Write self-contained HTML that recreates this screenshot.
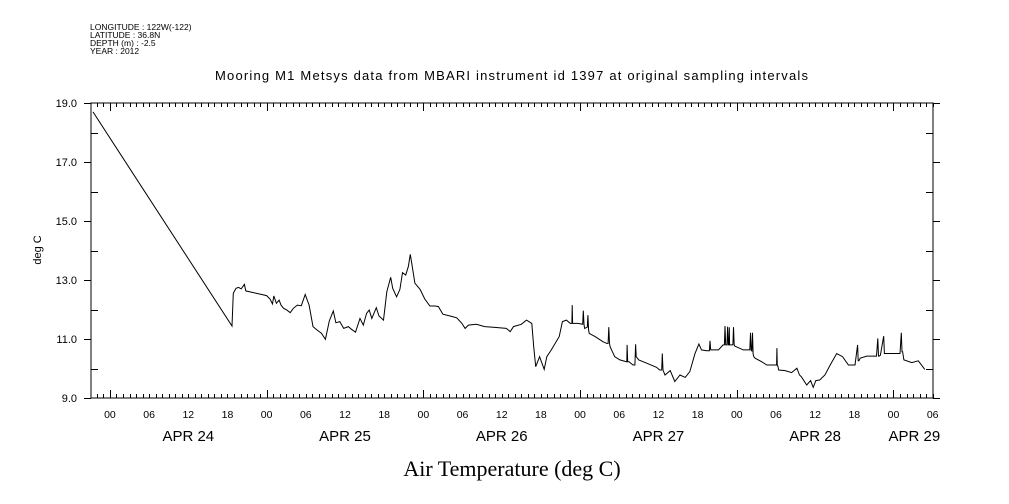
<!DOCTYPE html>
<html><head><meta charset="utf-8"><style>
body{margin:0;background:#fff;}
svg{display:block;font-family:"Liberation Sans",sans-serif;}
</style></head><body>
<svg id="chart" width="1009" height="504" viewBox="0 0 1009 504" xmlns="http://www.w3.org/2000/svg">
<rect width="1009" height="504" fill="#fff"/>
<g font-size="8.5" fill="#000">
<text x="90" y="30">LONGITUDE : 122W(-122)</text>
<text x="90" y="38">LATITUDE : 36.8N</text>
<text x="90" y="46">DEPTH (m) : -2.5</text>
<text x="90" y="54">YEAR : 2012</text>
</g>
<text x="215" y="80" font-size="13" textLength="593" lengthAdjust="spacing">Mooring M1 Metsys data from MBARI instrument id 1397 at original sampling intervals</text>
<text transform="translate(41,250) rotate(-90)" font-size="11" text-anchor="middle">deg C</text>
<text x="512" y="476" font-family="Liberation Serif,serif" font-size="22" text-anchor="middle">Air Temperature (deg C)</text>
<g id="axes"></g>
<path id="series" fill="none" stroke="#000" stroke-width="1"/>
<rect x="91" y="103" width="842" height="295" fill="none" stroke="#000" stroke-width="1"/>
</svg>
<script>
// data: hours since APR 24 00:00 and temperature (deg C)
const hours=[-2.6,18.7,18.9,19.3,19.7,20.1,20.6,20.8,24.0,24.5,24.9,25.1,25.5,25.9,26.2,26.6,27.1,27.6,28.1,28.7,29.3,29.9,30.5,31.1,31.7,32.4,33.0,33.6,34.2,34.6,35.2,35.8,36.5,37.0,37.6,38.3,38.8,39.3,39.7,40.1,40.8,41.2,41.9,42.4,43.0,43.3,43.9,44.4,44.8,45.3,45.7,46.0,46.7,47.5,48.2,49.0,49.8,50.3,51.0,52.1,53.1,53.9,54.4,54.9,56.1,57.4,58.7,60.7,61.3,61.8,63.0,63.8,64.6,64.9,65.2,65.8,66.5,66.9,67.6,68.8,69.3,69.9,70.5,70.75,70.8,70.85,71.1,71.7,72.4,72.5,72.6,72.7,73.1,73.2,73.3,73.4,74.3,75.5,76.1,76.3,76.4,76.5,76.6,77.3,78.1,79.1,79.15,79.2,79.3,79.5,80.1,80.4,80.5,80.6,81.0,82.2,83.7,84.2,84.5,84.6,84.7,85.0,85.8,86.5,87.3,88.1,88.8,89.6,90.2,90.6,91.4,91.8,91.9,92.0,92.1,93.2,93.9,94.1,94.2,94.3,94.5,94.6,94.7,94.8,94.85,94.9,95.0,95.4,95.5,95.6,95.7,95.9,97.0,98.0,98.1,98.2,98.3,98.4,98.5,98.6,98.8,99.8,100.6,102.1,102.15,102.2,102.3,102.4,103.4,104.4,105.2,105.6,105.9,106.7,107.3,107.7,108.1,108.7,109.5,110.3,111.3,112.2,113.1,113.5,114.1,114.5,114.6,114.7,114.9,115.9,117.4,117.6,117.7,117.8,118.0,118.5,118.6,118.7,118.8,121.0,121.2,121.3,121.4,121.6,122.8,123.8,124.8,126.0];
const temps=[18.7,11.44,12.55,12.72,12.75,12.7,12.85,12.63,12.47,12.36,12.19,12.46,12.21,12.32,12.15,12.04,11.98,11.89,12.04,12.15,12.13,12.51,12.15,11.42,11.31,11.19,10.99,11.61,11.95,11.55,11.59,11.36,11.42,11.33,11.23,11.70,11.47,11.87,11.98,11.70,12.06,11.78,11.64,12.6,13.09,12.72,12.43,12.68,13.25,13.17,13.45,13.87,12.89,12.68,12.36,12.12,12.12,12.1,11.84,11.78,11.72,11.53,11.36,11.47,11.5,11.42,11.40,11.36,11.25,11.42,11.5,11.64,11.53,10.74,10.06,10.40,9.97,10.40,10.63,11.08,11.59,11.64,11.53,11.53,12.15,11.53,11.53,11.53,11.5,11.96,11.5,11.36,11.4,11.81,11.3,11.19,11.08,10.91,10.85,10.85,11.40,10.85,10.74,10.40,10.29,10.23,10.23,10.80,10.23,10.23,10.12,10.12,10.82,10.4,10.29,10.18,10.04,9.95,9.95,10.51,9.95,9.78,9.93,9.56,9.78,9.70,9.89,10.51,10.83,10.63,10.60,10.6,10.94,10.63,10.63,10.63,10.80,10.8,11.44,10.8,10.8,11.42,10.8,10.8,11.4,10.8,10.8,10.8,11.40,10.8,10.76,10.74,10.63,10.63,11.21,10.63,10.6,11.21,10.5,10.40,10.35,10.23,10.12,10.12,10.69,10.1,10.08,9.95,9.93,9.86,10.01,9.78,9.72,9.44,9.59,9.36,9.59,9.61,9.78,10.12,10.51,10.40,10.12,10.12,10.12,10.80,10.26,10.26,10.35,10.42,10.42,11.02,10.42,10.42,10.45,11.10,10.51,10.51,10.51,10.51,11.21,10.57,10.57,10.29,10.20,10.26,9.97];
const yTickValues=[9,10,11,12,13,14,15,16,17,18,19];
const yLabels=["9.0","11.0","13.0","15.0","17.0","19.0"];
const hourLabels=["00","06","12","18"];
const dayLabels=["APR 24","APR 25","APR 26","APR 27","APR 28","APR 29"];

const X0=91,X1=933,Y0=103,Y1=398;
const tMin=-2.9,tMax=126.05,vMin=9,vMax=19;
function xs(t){return X0+(t-tMin)/(tMax-tMin)*(X1-X0);}
function ys(v){return Y1-(v-vMin)/(vMax-vMin)*(Y1-Y0);}
const NS="http://www.w3.org/2000/svg";
const ax=document.getElementById('axes');
function line(x1,y1,x2,y2,name){
  const l=document.createElementNS(NS,'line');
  l.setAttribute('x1',x1);l.setAttribute('y1',y1);l.setAttribute('x2',x2);l.setAttribute('y2',y2);
  l.setAttribute('stroke','#000');l.setAttribute('stroke-width','1');
  
  
  ax.appendChild(l);
}
function text(x,y,s,size,anchor,name){
  const t=document.createElementNS(NS,'text');
  t.setAttribute('x',x);t.setAttribute('y',y);t.setAttribute('font-size',size);t.setAttribute('text-anchor',anchor);
  t.textContent=s;
  
  
  ax.appendChild(t);
}
yTickValues.forEach(v=>{
  const y=Math.round(ys(v))+0.5;
  const labeled=yLabels.includes(v.toFixed(1));
  if(labeled){line(X0-7,y,X0,y,'y-tick');line(X1,y,X1+7,y,'y-tick-right');}
  else{line(X0,y,X0+7,y,'y-tick');line(X1-7,y,X1,y,'y-tick-right');}
});
yLabels.forEach(s=>{text(X0-14,ys(parseFloat(s))+4,s,11,'end','y-tick-label');});
for(let h=Math.ceil(tMin);h<=tMax;h++){
  const x=Math.round(xs(h))+0.5;
  const major=((h%24)+24)%24===0;
  const len=major?8:4;
  line(x,Y1,x,Y1-len,'x-tick');
  line(x,Y0,x,Y0+len,'x-tick-top');
  if(h>=0 && h%6===0){
    text(xs(h),418,hourLabels[(h%24)/6],10.5,'middle','x-hour-label');
  }
}
dayLabels.forEach((d,i)=>{
  const cx=i<5?xs(i*24+12):xs(120+3.2);
  text(cx,441,d,15,'middle','x-date-label');
});
let dstr='';
hours.forEach((h,i)=>{dstr+=(i?'L':'M')+xs(h).toFixed(1)+','+ys(temps[i]).toFixed(1);});
document.getElementById('series').setAttribute('d',dstr);
</script>
</body></html>
